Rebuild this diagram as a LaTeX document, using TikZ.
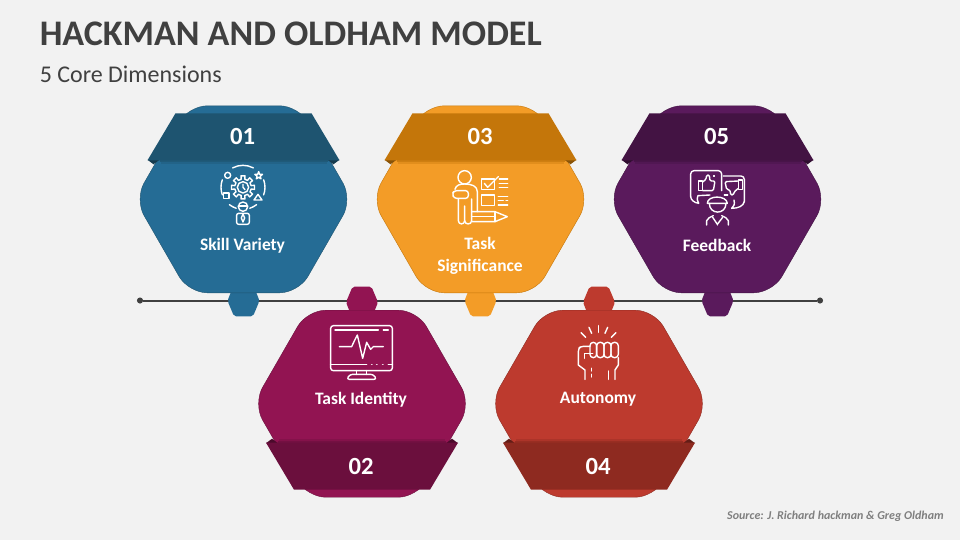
\documentclass[tikz,border=0pt]{standalone}
\usepackage{fontspec}
\setmainfont{Carlito}
\definecolor{bgc}{HTML}{F2F2F2}
\definecolor{inkc}{HTML}{404040}
\definecolor{srcc}{HTML}{7F7F7F}
\definecolor{bluea}{HTML}{256C95}
\definecolor{blueb}{HTML}{1E5470}
\definecolor{orga}{HTML}{F39C27}
\definecolor{orgb}{HTML}{C4760A}
\definecolor{pura}{HTML}{5A1A5C}
\definecolor{purb}{HTML}{431343}
\definecolor{maga}{HTML}{921452}
\definecolor{magb}{HTML}{6B0F3D}
\definecolor{reda}{HTML}{BD3A2E}
\definecolor{redb}{HTML}{8E2A20}
\tikzset{
  px/.style={x=0.75pt,y=-0.75pt},
  labeltext/.style={text=white,font=\bfseries\fontsize{13.1}{16}\selectfont,align=center,inner sep=0pt},
  numtext/.style={text=white,font=\bfseries\fontsize{18.5}{20}\selectfont,inner sep=0pt},
  icon/.style={white,line width=1.05pt,line cap=round,line join=round},
  enddot/.style={circle,fill=inkc,inner sep=0pt,minimum size=4.6pt},
}
% #1 cx, #2 cy, #3 fill, #4 band fill, #5 vertical direction (1 = band on top, -1 = band at bottom)
\newcommand{\hexblock}[5]{
  \begin{scope}[shift={(#1,#2)},yscale=#5]
    \fill[#3,rounded corners=1.5pt] (-16,101.5) -- (-9.5,117) -- (9.5,117) -- (16,101.5) -- (9.5,85) -- (-9.5,85) -- cycle;
    \filldraw[fill=#3,draw=#4,line width=0.3pt,rounded corners=14pt]
      (-55,-93.5) -- (55,-93.5) -- (108.8,0) -- (55,93.5) -- (-55,93.5) -- (-108.8,0) -- cycle;
    \fill[#4,opacity=.75] (-84,-39) rectangle (84,-37);
    \fill[#4,opacity=.35] (-83,-37) rectangle (83,-35.5);
    \fill[#4!70!black] (-96,-39.5) -- (-84,-39.5) -- (-90,-35) -- cycle;
    \fill[#4!70!black] (96,-39.5) -- (84,-39.5) -- (90,-35) -- cycle;
    \fill[#4] (-68,-86) -- (68,-86) -- (96,-39) -- (-96,-39) -- cycle;
  \end{scope}
}
\begin{document}
\begin{tikzpicture}[px]
\useasboundingbox (0,0) rectangle (960,540);
\fill[bgc] (0,0) rectangle (960,540);
\node[anchor=west,inner sep=0pt,text=inkc,font=\bfseries\fontsize{27}{30}\selectfont] (title) at (39.5,34) {HACKMAN AND OLDHAM MODEL};
\node[anchor=west,inner sep=0pt,text=inkc,font=\fontsize{18}{20}\selectfont] (subtitle) at (39.5,74) {5 Core Dimensions};
\node[enddot] (ls) at (140,300.5) {};
\node[enddot] (le) at (820,300.5) {};
\draw[inkc,line width=1.5pt] (ls) -- (le);

\hexblock{243.5}{199.3}{bluea}{blueb}{1}
\hexblock{480.5}{199.3}{orga}{orgb}{1}
\hexblock{717.5}{199.3}{pura}{purb}{1}
\hexblock{362}{403.7}{maga}{magb}{-1}
\hexblock{599}{403.7}{reda}{redb}{-1}

\node[numtext] (n1) at (242.5,136.5) {01};
\node[numtext] (n3) at (480,136.5) {03};
\node[numtext] (n5) at (716.5,136.5) {05};
\node[numtext] (n2) at (361,466) {02};
\node[numtext] (n4) at (598,466) {04};
\node[labeltext] (l1) at (242.5,246) {Skill Variety};
\node[labeltext] (l3) at (480,256) {Task\\Significance};
\node[labeltext] (l5) at (717,245.5) {Feedback};
\node[labeltext] (l2) at (361,400) {Task Identity};
\node[labeltext] (l4) at (598,399.5) {Autonomy};
\node[anchor=east,inner sep=0pt,text=srcc,font=\bfseries\itshape\fontsize{9}{10}\selectfont] (src) at (944,516) {Source: J. Richard hackman \& Greg Oldham};

% icon 01
\begin{scope}[shift={(130,100)},scale=0.3333,icon]
  \begin{scope}[shift={(339,262)}]
    \draw (-12:25) \foreach \a in {0,45,...,315} { -- (\a-12:25) -- (\a-10:35) -- (\a+10:35) -- (\a+12:25) } -- cycle;
    \draw (0,0) circle (17);
    \draw (0,-9) -- (0,0) -- (6,7);
    \foreach \s/\e in {-118/-62,160/200,-20/20,108/128,52/72}
      \draw (\s:66) arc[start angle=\s,end angle=\e,radius=66];
  \end{scope}
  \draw (293,226) circle (9);
  \draw (280,279) rectangle (297,296);
  \draw (384,283) -- (372,300) -- (396,300) -- cycle;
  \begin{scope}[shift={(386,227)}]
    \draw (-90:12) -- (-54:5) -- (-18:12) -- (18:5) -- (54:12) -- (90:5) -- (126:12) -- (162:5) -- (198:12) -- (234:5) -- cycle;
  \end{scope}
  \draw (339,320) circle (14);
  \draw (325,318) -- (353,318);
  \draw[rounded corners=1.5pt] (320,373) -- (320,340) -- (358,340) -- (358,373) -- cycle;
  \draw (339,342) -- (334,354) -- (339,366) -- (344,354) -- cycle;
\end{scope}

% icon 03
\begin{scope}[shift={(370,100)},scale=0.3333,icon]
  \draw (284,232) circle (20);
  \draw (255,268) .. controls (258,255) and (270,252) .. (284,252) .. controls (305,252) and (322,258) .. (322,275) -- (322,335);
  \draw[rounded corners=2pt] (295,272) -- (252,272) -- (247,282) -- (252,295) -- (295,295) -- cycle;
  \draw (265,297) -- (265,362) .. controls (265,375) and (284,375) .. (284,362) -- (284,318);
  \draw (284,362) .. controls (284,375) and (305,375) .. (305,362) -- (305,297);
  \draw (335,237) rectangle (373,268);
  \draw (343,250) -- (353,262) -- (385,230);
  \draw (335,285) rectangle (373,317);
  \foreach \y in {237,250,262} \draw (388,\y) -- (413,\y);
  \draw (385,290) -- (413,290);
  \draw (385,302) -- (400,302); \draw (408,302) -- (413,302);
  \draw (385,315) -- (413,315);
  \draw (305,335) -- (375,335) -- (412,350) -- (375,365) -- (305,365);
  \draw (375,335) -- (375,365);
  \draw (305,350) -- (375,350);
\end{scope}

% icon 05
\begin{scope}[shift={(610,100)},scale=0.3333,icon]
  \draw[rounded corners=2.5pt] (335,272) -- (335,212) -- (242,212) -- (242,290);
  \draw (242,290) .. controls (243,300) and (252,308) .. (266,310) .. controls (262,303) and (260,297) .. (264,287) -- (300,285);
  \draw[rounded corners=2.5pt] (340,228) -- (403,228) -- (403,305);
  \draw (403,305) .. controls (400,318) and (385,325) .. (365,325) .. controls (372,320) and (375,312) .. (372,300);
  \draw (265,243) rectangle (278,272);
  \draw[rounded corners=1pt] (278,246) -- (288,238) -- (290,225) -- (298,225) -- (300,243) -- (315,243) -- (310,272) -- (278,272);
  \draw (312,228) circle (1.5);
  \draw (385,240) rectangle (397,268);
  \draw[rounded corners=1pt] (385,243) -- (345,245) -- (350,268) -- (360,270) -- (362,285) -- (370,285) -- (373,275) -- (385,265);
  \draw (343,285) -- (353,285);
  \draw (298,310) .. controls (298,345) and (348,345) .. (348,310);
  \draw (292,310) .. controls (292,285) and (350,285) .. (352,310) -- (292,310);
  \draw (290,375) -- (290,362) .. controls (292,355) and (300,352) .. (310,347);
  \draw (355,375) -- (355,362) .. controls (353,355) and (345,352) .. (335,347);
  \draw (308,352) -- (322,373) -- (338,352);
  \draw (322,373) -- (322,375);
\end{scope}

% icon 02
\begin{scope}[shift={(250,285)},scale=0.3333,icon]
  \draw[rounded corners=2pt] (242,122) rectangle (427,257);
  \draw (255,135) -- (385,135); \draw (400,135) -- (415,135);
  \draw (242,238) -- (350,238); \draw (415,238) -- (427,238);
  \foreach \x in {365,380,398} \draw (\x,238) -- (\x+1,238);
  \draw (268,185) -- (305,185) -- (312,170) -- (322,150) -- (338,220) -- (350,172) -- (362,193) -- (370,185) -- (400,185);
  \draw (320,257) -- (320,268); \draw (350,257) -- (350,268);
  \draw[rounded corners=2pt] (300,268) -- (370,268) -- (380,283) -- (290,283) -- cycle;
\end{scope}

% icon 04
\begin{scope}[shift={(490,285)},scale=0.3333,icon]
  \draw (325,122) -- (325,142);
  \draw (297,127) -- (305,145);
  \draw (353,127) -- (345,145);
  \draw (273,143) -- (287,157);
  \draw (378,143) -- (364,157);
  \foreach \a/\b in {300/320,320/342,342/363,363/385}
    \draw[rounded corners=2.5pt] (\a,172) rectangle (\b,218);
  \draw[rounded corners=2pt] (300,184) -- (272,184) -- (265,192) -- (265,240);
  \draw (265,240) -- (285,255) -- (285,283);
  \draw (283,220) -- (283,206) -- (308,206);
  \draw (385,218) -- (385,240) -- (375,255) -- (375,283);
  \draw (355,258) -- (355,283);
  \draw[dash pattern=on 2pt off 2.5pt] (305,250) -- (305,283);
\end{scope}
\end{tikzpicture}
\end{document}
